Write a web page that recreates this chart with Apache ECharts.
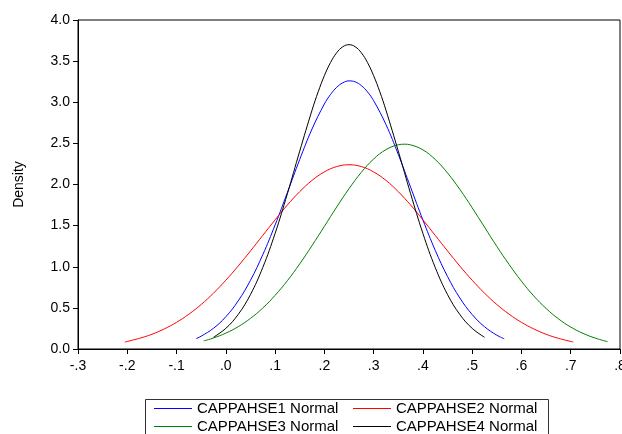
<!DOCTYPE html>
<html>
<head>
<meta charset="utf-8">
<script src="https://cdn.jsdelivr.net/npm/echarts@6/dist/echarts.min.js"></script>
<style>
	html, body { margin: 0; padding: 0; background: #fff; }
	#chart { width: 622px; height: 434px; }
</style>
</head>
<body>
<div id="chart"></div>
<script>
// values: [x, density]
var names = ['CAPPAHSE1 Normal', 'CAPPAHSE2 Normal', 'CAPPAHSE3 Normal', 'CAPPAHSE4 Normal'];
var colors = ['#0000ff', '#ff0000', '#008000', '#000000'];

var cappahse1 = [
	[-0.06, 0.127], [-0.05, 0.156], [-0.025, 0.252], [0, 0.392], [0.025, 0.584], [0.05, 0.835],
	[0.075, 1.146], [0.1, 1.508], [0.125, 1.903], [0.15, 2.304], [0.175, 2.675], [0.2, 2.979],
	[0.2125, 3.094], [0.225, 3.182], [0.2375, 3.237], [0.25, 3.26], [0.2625, 3.248], [0.275, 3.203],
	[0.2875, 3.126], [0.3, 3.019], [0.325, 2.729], [0.35, 2.366],
	[0.375, 1.967], [0.4, 1.569], [0.425, 1.2], [0.45, 0.881], [0.475, 0.62], [0.5, 0.419],
	[0.525, 0.271], [0.55, 0.168], [0.565, 0.124]
];
var cappahse2 = [
	[-0.205, 0.085], [-0.175, 0.13], [-0.15, 0.179], [-0.125, 0.244], [-0.1, 0.324], [-0.075, 0.423],
	[-0.05, 0.541], [-0.025, 0.679], [0, 0.836], [0.025, 1.008], [0.05, 1.192], [0.075, 1.381],
	[0.1, 1.57], [0.125, 1.751], [0.15, 1.913], [0.175, 2.05], [0.2, 2.153], [0.225, 2.218],
	[0.25, 2.24], [0.275, 2.218], [0.3, 2.153], [0.325, 2.05], [0.35, 1.913], [0.375, 1.751],
	[0.4, 1.57], [0.425, 1.381], [0.45, 1.192], [0.475, 1.008], [0.5, 0.836], [0.525, 0.679],
	[0.55, 0.541], [0.575, 0.423], [0.6, 0.324], [0.625, 0.244], [0.65, 0.179], [0.675, 0.13],
	[0.705, 0.085]
];
var cappahse3 = [
	[-0.045, 0.098], [-0.025, 0.134], [0, 0.193], [0.025, 0.271], [0.05, 0.372], [0.075, 0.498],
	[0.1, 0.652], [0.125, 0.831], [0.15, 1.035], [0.175, 1.258], [0.2, 1.491], [0.225, 1.726],
	[0.25, 1.949], [0.275, 2.148], [0.3, 2.31], [0.325, 2.424], [0.35, 2.483], [0.3625, 2.49],
	[0.375, 2.482], [0.4, 2.421], [0.425, 2.304], [0.45, 2.14], [0.475, 1.94], [0.5, 1.717],
	[0.525, 1.482], [0.55, 1.248], [0.575, 1.027], [0.6, 0.824], [0.625, 0.645], [0.65, 0.493],
	[0.675, 0.367], [0.7, 0.267], [0.725, 0.19], [0.75, 0.132], [0.775, 0.089]
];
var cappahse4 = [
	[-0.025, 0.143], [0, 0.251], [0.025, 0.419], [0.05, 0.662], [0.075, 0.991], [0.1, 1.405],
	[0.125, 1.889], [0.15, 2.406], [0.175, 2.904], [0.1875, 3.128], [0.2, 3.323], [0.2125, 3.483],
	[0.225, 3.602], [0.2375, 3.675], [0.25, 3.7], [0.2625, 3.675], [0.275, 3.602], [0.2875, 3.483],
	[0.3, 3.323], [0.3125, 3.128], [0.325, 2.904], [0.35, 2.406], [0.375, 1.889], [0.4, 1.405],
	[0.425, 0.991], [0.45, 0.662], [0.475, 0.419], [0.5, 0.251], [0.525, 0.143]
];
var seriesData = [cappahse1, cappahse2, cappahse3, cappahse4];

getChart();

function xLabel(v){
	var n = Math.round(v * 10);
	return (n < 0 ? '-' : '') + '.' + Math.abs(n);
}

function getChart(){
	var chart = echarts.init(document.getElementById('chart'));
	var font = 'Liberation Sans, Arial, sans-serif';
	var series = [];
	for (var i = 0; i < seriesData.length; i++) {
		series.push({
			name: names[i],
			type: 'line',
			data: seriesData[i],
			smooth: 0.4,
			showSymbol: false,
			symbol: 'none',
			silent: true,
			lineStyle: { color: colors[i], width: 1 },
			itemStyle: { color: colors[i] }
		});
	}
	// one legend per item so each sits where it does in the picture
	var legendPos = [[154, 401], [353, 401], [154, 419], [353, 419]];
	var legends = [];
	for (var j = 0; j < names.length; j++) {
		legends.push({
			left: legendPos[j][0],
			top: legendPos[j][1],
			icon: 'rect',
			itemWidth: 38,
			itemHeight: 1,
			itemGap: 0,
			padding: 0,
			selectedMode: false,
			data: [{ name: names[j], itemStyle: { color: colors[j] } }],
			textStyle: { color: '#000', fontSize: 15, fontFamily: font, padding: [0, 0, 0, 0] }
		});
	}
	var option = {
		animation: false,
		color: colors,
		grid: {
			left: 78, top: 20, right: 2, bottom: 85,
			outerBoundsMode: 'none',
			containLabel: false,
			show: true, borderColor: '#000', borderWidth: 1
		},
		legend: legends,
		graphic: [{
			type: 'rect',
			left: 143, top: 397,
			shape: { width: 403, height: 44 },
			style: { fill: 'none', stroke: '#333', lineWidth: 1 },
			silent: true
		}],
		xAxis: {
			type: 'value',
			min: -0.3, max: 0.8, interval: 0.1,
			splitLine: { show: false },
			axisLine: { show: true, onZero: false, lineStyle: { color: '#000' } },
			axisTick: { show: true, inside: false, length: 5, lineStyle: { color: '#000' } },
			axisLabel: { color: '#000', fontSize: 14, fontFamily: font, margin: 10, formatter: xLabel, showMaxLabel: true, hideOverlap: false }
		},
		yAxis: {
			type: 'value',
			min: 0, max: 4, interval: 0.5,
			name: 'Density',
			nameLocation: 'middle',
			nameGap: 52,
			nameTextStyle: { color: '#000', fontSize: 14, fontFamily: font },
			splitLine: { show: false },
			axisLine: { show: true, onZero: false, lineStyle: { color: '#000' } },
			axisTick: { show: true, inside: false, length: 5, lineStyle: { color: '#000' } },
			axisLabel: { color: '#000', fontSize: 14, fontFamily: font, margin: 8, formatter: function(v){ return v.toFixed(1); } }
		},
		series: series
	};
	chart.setOption(option);
}
</script>
</body>
</html>
